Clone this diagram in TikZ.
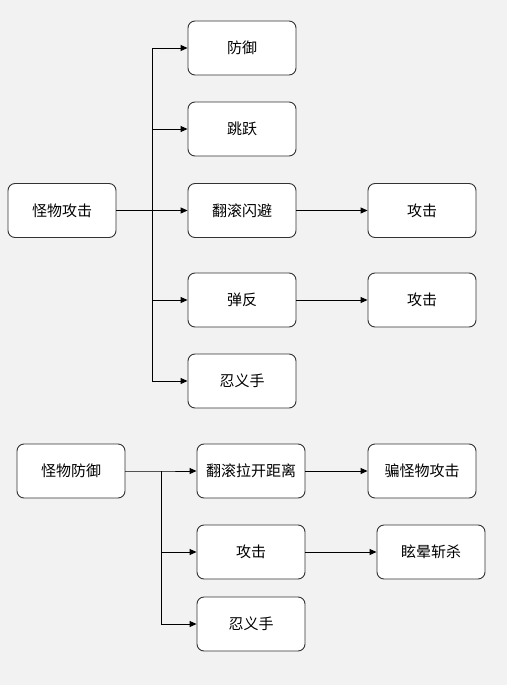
\documentclass[tikz,border=0pt]{standalone}
\usepackage{fontspec}
\setmainfont{Noto Sans CJK SC}
\usepackage{tikz}
\usetikzlibrary{arrows.meta}
\definecolor{bg}{HTML}{F2F2F2}
\definecolor{edge}{HTML}{333333}
\tikzset{
  box/.style={draw=edge, fill=white, rounded corners=7pt, line width=0.9pt,
    minimum width=108pt, minimum height=54pt, inner sep=0pt,
    font=\fontsize{15pt}{17pt}\selectfont},
  link/.style={-{Triangle[length=7pt,width=6pt]}, line width=0.9pt, black}
}

\begin{document}
\begin{tikzpicture}[x=1pt, y=-1pt]
    \fill[bg] (0,0) rectangle (507,685);
    \useasboundingbox (0,0) rectangle (507,685);

    % monster attack
    \node[box] (atk) at (62, 210.5) {怪物攻击};
    \node[box] (fy) at (242, 48) {防御};
    \node[box] (ty) at (242, 129) {跳跃};
    \node[box] (fg) at (242, 210.5) {翻滚闪避};
    \node[box] (fgatk) at (422, 210.5) {攻击};
    \node[box] (tf) at (242, 300) {弹反};
    \node[box] (tfatk) at (422, 300) {攻击};
    \node[box] (ryx) at (242, 381) {忍义手};

    \coordinate (split1) at (152, 210.5);

    \draw[link] (atk.east) -- (split1) |- (fy.west);
    \draw[link] (split1) |- (ty.west);
    \draw[link] (split1) -- (fg.west);
    \draw[link] (split1) |- (tf.west);
    \draw[link] (split1) |- (ryx.west);
    \draw[link] (fg.east) -- (fgatk.west);
    \draw[link] (tf.east) -- (tfatk.west);

    % monster defence
    \node[box] (def) at (71, 471) {怪物防御};
    \node[box] (lk) at (251, 471) {翻滚拉开距离};
    \node[box] (pian) at (422, 471) {骗怪物攻击};
    \node[box] (defatk) at (251, 552) {攻击};
    \node[box] (xy) at (431, 552) {眩晕斩杀};
    \node[box] (ryx2) at (251, 624) {忍义手};

    \coordinate (split2) at (161, 471);

    \draw[link] (def.east) -- (split2) -- (lk.west);
    \draw[link] (split2) |- (defatk.west);
    \draw[link] (split2) |- (ryx2.west);
    \draw[link] (lk.east) -- (pian.west);
    \draw[link] (defatk.east) -- (xy.west);
\end{tikzpicture}
\end{document}
